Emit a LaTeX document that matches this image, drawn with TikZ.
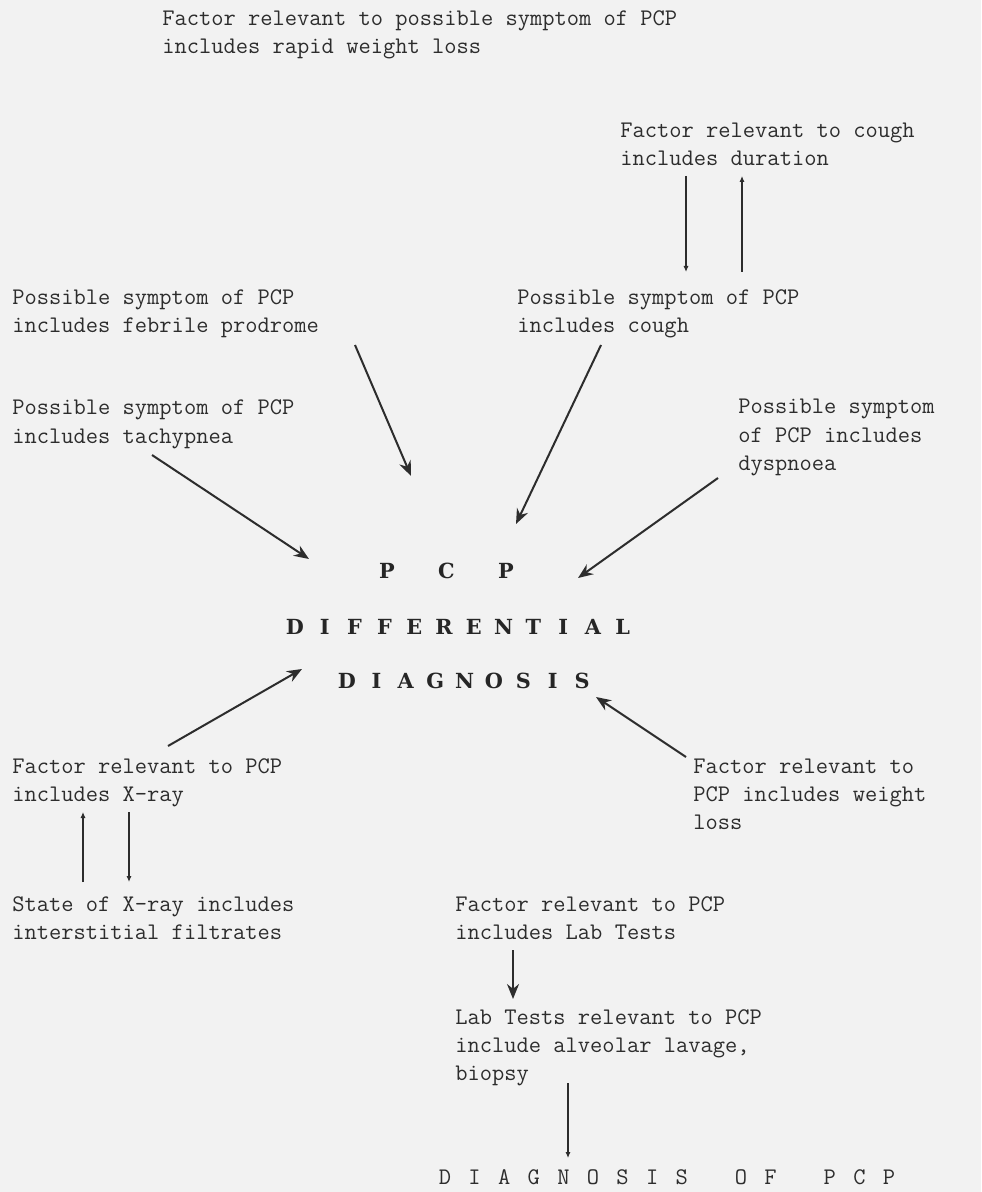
\documentclass[tikz,border=0pt]{standalone}
\usepackage{fontspec}
\newfontfamily\slabfont{DejaVu Serif}
\usetikzlibrary{arrows.meta,positioning}
\definecolor{paper}{RGB}{242,242,242}
\definecolor{ink}{RGB}{45,45,45}

\tikzset{
  note/.style={anchor=base west, inner sep=0pt, align=left, text=ink,
               font=\ttfamily\fontsize{11.9bp}{14bp}\selectfont},
  bigletter/.style={anchor=base, inner sep=0pt, text=black!85,
               font=\slabfont\bfseries\fontsize{10.4bp}{14bp}\selectfont},
  spaced/.style={anchor=base, inner sep=0pt, text=ink,
               font=\ttfamily\fontsize{11.9bp}{14bp}\selectfont},
  link/.style={line width=1bp, draw=ink, -{Stealth[length=7.5bp,width=6bp]}},
  faint link/.style={line width=1bp, draw=ink, -{Latex[length=3bp,width=2.6bp]}},
}

\begin{document}
\begin{tikzpicture}[x=0.5bp,y=-0.5bp]
  \fill[paper] (0,0) rectangle (981,1192);
  \useasboundingbox (0,0) rectangle (981,1192);

  % statements (placed by the baseline of their last line)
  \node[note] (rapid) at (162,54)
    {Factor relevant to possible symptom of PCP\\includes rapid weight loss};
  \node[note] (duration) at (620,166)
    {Factor relevant to cough\\includes duration};
  \node[note] (febrile) at (12,333)
    {Possible symptom of PCP\\includes febrile prodrome};
  \node[note] (cough) at (517,333)
    {Possible symptom of PCP\\includes cough};
  \node[note] (tachy) at (12,443)
    {Possible symptom of PCP\\includes tachypnea};
  \node[note] (dysp) at (738,470)
    {Possible symptom\\of PCP includes\\dyspnoea};
  \node[note] (xray) at (12,801)
    {Factor relevant to PCP\\includes X-ray};
  \node[note] (wloss) at (693,829)
    {Factor relevant to\\PCP includes weight\\loss};
  \node[note] (xstate) at (12,939)
    {State of X-ray includes\\interstitial filtrates};
  \node[note] (labfac) at (455,939)
    {Factor relevant to PCP\\includes Lab Tests};
  \node[note] (labtest) at (455,1080)
    {Lab Tests relevant to PCP\\include alveolar lavage,\\biopsy};

  % centre words
  \foreach \l [count=\k from 0] in {P,C,P}
    \node[bigletter] (pcp\k) at (387+59.5*\k,578) {\l};
  \foreach \l [count=\k from 0] in {D,I,F,F,E,R,E,N,T,I,A,L}
    \node[bigletter] (diff\k) at (295+29.8*\k,634) {\l};
  \foreach \l [count=\k from 0] in {D,I,A,G,N,O,S,I,S}
    \node[bigletter] (diag\k) at (347+29.4*\k,688) {\l};

  % final diagnosis
  \foreach \l/\p [count=\k from 0] in {D/0,I/1,A/2,G/3,N/4,O/5,S/6,I/7,S/8,
                                       O/10,F/11,P/13,C/14,P/15}
    \node[spaced] (final\k) at (445+29.6*\p,1184) {\l};

  % arrow ends
  \coordinate (durOut) at (686,176);  \coordinate (durIn)  at (686,272);
  \coordinate (durBk)  at (742,272);  \coordinate (durTop) at (742,176);
  \coordinate (febOut) at (355,345);  \coordinate (febIn)  at (411,476);
  \coordinate (cghOut) at (601,345);  \coordinate (cghIn)  at (516,524);
  \coordinate (tchOut) at (152,455);  \coordinate (tchIn)  at (309,559);
  \coordinate (dysOut) at (718,478);  \coordinate (dysIn)  at (578,578);
  \coordinate (xrOut)  at (168,746);  \coordinate (xrIn)   at (302,669);
  \coordinate (wlOut)  at (686,757);  \coordinate (wlIn)   at (596,697);
  \coordinate (xsOut)  at (83,882);   \coordinate (xsIn)   at (83,812);
  \coordinate (xrDn)   at (129,812);  \coordinate (xrDnIn) at (129,882);
  \coordinate (lfOut)  at (513,950);  \coordinate (lfIn)   at (513,999);
  \coordinate (ltOut)  at (568,1083); \coordinate (ltIn)   at (568,1158);

  \draw[faint link] (durOut) -- (durIn);
  \draw[faint link] (durBk) -- (durTop);
  \draw[link] (febOut) -- (febIn);
  \draw[link] (cghOut) -- (cghIn);
  \draw[link] (tchOut) -- (tchIn);
  \draw[link] (dysOut) -- (dysIn);
  \draw[link] (xrOut) -- (xrIn);
  \draw[link] (wlOut) -- (wlIn);
  \draw[faint link] (xsOut) -- (xsIn);
  \draw[faint link] (xrDn) -- (xrDnIn);
  \draw[link] (lfOut) -- (lfIn);
  \draw[faint link] (ltOut) -- (ltIn);
\end{tikzpicture}
\end{document}
